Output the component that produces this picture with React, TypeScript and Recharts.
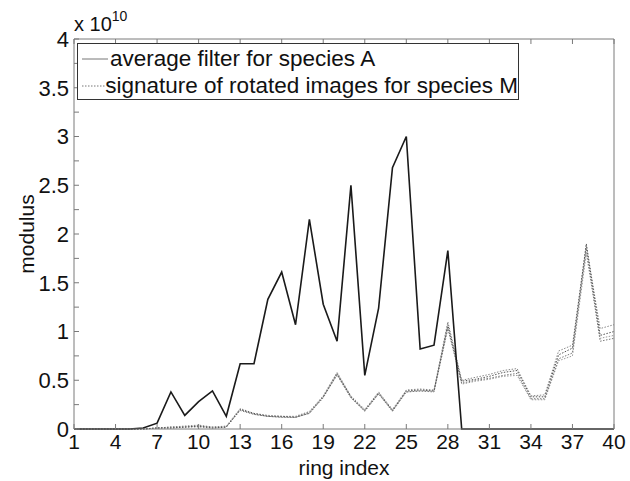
import React from "react"
import { LineChart, Line, XAxis, YAxis } from "recharts"

const ringIndex = [
  1, 2, 3, 4, 5, 6, 7, 8, 9, 10, 11, 12, 13, 14, 15, 16, 17, 18, 19, 20,
  21, 22, 23, 24, 25, 26, 27, 28, 29, 30, 31, 32, 33, 34, 35, 36, 37, 38, 39, 40,
]

// values in units of 1e10
const avgFilterA = [
  0, 0, 0, 0, 0, 0.01, 0.06, 0.38, 0.14, 0.28, 0.39, 0.13, 0.67, 0.67, 1.33, 1.61, 1.07, 2.15, 1.28, 0.9,
  2.5, 0.55, 1.24, 2.68, 3.0, 0.82, 0.86, 1.83, 0, 0, 0, 0, 0, 0, 0, 0, 0, 0, 0, 0,
]

const rotM1 = [
  0, 0, 0, 0, 0, 0, 0.01, 0.01, 0.02, 0.03, 0.01, 0.02, 0.2, 0.16, 0.13, 0.13, 0.12, 0.17, 0.33, 0.57,
  0.33, 0.19, 0.37, 0.19, 0.39, 0.4, 0.39, 1.07, 0.49, 0.51, 0.54, 0.58, 0.6, 0.33, 0.33, 0.76, 0.83, 1.9, 0.96, 1.0,
]
const rotM2 = [
  0, 0, 0, 0, 0, 0, 0.01, 0.02, 0.02, 0.03, 0.02, 0.02, 0.19, 0.15, 0.13, 0.12, 0.12, 0.16, 0.32, 0.56,
  0.32, 0.18, 0.36, 0.18, 0.38, 0.39, 0.38, 1.03, 0.47, 0.5, 0.52, 0.55, 0.57, 0.31, 0.31, 0.72, 0.78, 1.85, 0.9, 0.93,
]
const rotM3 = [
  0, 0, 0, 0, 0, 0, 0.01, 0.02, 0.03, 0.04, 0.02, 0.03, 0.21, 0.16, 0.14, 0.13, 0.13, 0.18, 0.34, 0.58,
  0.34, 0.2, 0.38, 0.2, 0.4, 0.41, 0.4, 1.1, 0.5, 0.53, 0.56, 0.6, 0.62, 0.34, 0.35, 0.8, 0.86, 1.88, 1.03, 1.07,
]
const rotM4 = [
  0, 0, 0, 0, 0, 0, 0.01, 0.01, 0.02, 0.02, 0.01, 0.02, 0.2, 0.15, 0.13, 0.12, 0.12, 0.16, 0.33, 0.55,
  0.32, 0.19, 0.36, 0.19, 0.38, 0.39, 0.39, 1.05, 0.46, 0.49, 0.51, 0.54, 0.55, 0.3, 0.3, 0.7, 0.75, 1.8, 0.93, 0.96,
]

const xTicks = [1, 4, 7, 10, 13, 16, 19, 22, 25, 28, 31, 34, 37, 40]
const yTicks = [0, 0.25, 0.5, 0.75, 1, 1.25, 1.5, 1.75, 2, 2.25, 2.5, 2.75, 3, 3.25, 3.5, 3.75, 4]

const avgName = "average filter for species A"
const rotName = "signature of rotated images for species M"

const data = ringIndex.map((r, i) => ({
  ring: r,
  avg: avgFilterA[i],
  m1: rotM1[i],
  m2: rotM2[i],
  m3: rotM3[i],
  m4: rotM4[i],
}))

const FONT = "'Liberation Sans', Arial, sans-serif"
const FS = 21
const AXIS = "#7a7a7a"
const TICK_LEN = 5
const MARGIN = 5

function BottomTick(props: any) {
  const { x, y, payload } = props
  const ay = y - MARGIN
  return (
    <g>
      <line x1={x} x2={x} y1={ay} y2={ay - TICK_LEN} stroke={AXIS} />
      <text x={x} y={y} dy="0.71em" textAnchor="middle" fontSize={FS} fontFamily={FONT} fill="#111">
        {payload.value}
      </text>
    </g>
  )
}

function TopTick(props: any) {
  const { x, y } = props
  return <line x1={x} x2={x} y1={y} y2={y + TICK_LEN} stroke={AXIS} />
}

function LeftTick(props: any) {
  const { x, y, payload } = props
  const ax = x + MARGIN
  const v = payload.value
  const major = Math.abs(v * 2 - Math.round(v * 2)) < 1e-6
  return (
    <g>
      <line x1={ax} x2={ax + TICK_LEN} y1={y} y2={y} stroke={AXIS} />
      {major && (
        <text x={x} y={y} dy="0.36em" textAnchor="end" fontSize={22} fontFamily={FONT} fill="#111">
          {String(v)}
        </text>
      )}
    </g>
  )
}

function RightTick(props: any) {
  const { x, y } = props
  return <line x1={x - TICK_LEN} x2={x} y1={y} y2={y} stroke={AXIS} />
}

function LegendBox() {
  return (
    <div
      style={{
        position: "absolute",
        left: 77,
        top: 43,
        border: "1px solid #333",
        background: "#fff",
        width: 442,
        height: 57,
        boxSizing: "border-box",
        fontFamily: FONT,
        fontSize: 22.5,
        color: "#111",
        paddingTop: 1,
      }}
    >
      {[
        { name: avgName, dash: undefined },
        { name: rotName, dash: "1.5 1.5" },
      ].map((it) => (
        <div key={it.name} style={{ display: "flex", alignItems: "center", height: 27, whiteSpace: "nowrap" }}>
          <svg width={32} height={10}>
            <line x1={4} x2={30} y1={5} y2={5} stroke="#777" strokeWidth={1} strokeDasharray={it.dash} />
          </svg>
          <span>{it.name}</span>
        </div>
      ))}
    </div>
  )
}

export default function App() {
  return (
    <div style={{ position: "relative", width: 630, height: 481, background: "#fff" }}>
      <style>{"body{margin:0}"}</style>
      <div
        style={{
          position: "absolute",
          left: 74,
          top: 10,
          fontFamily: FONT,
          fontSize: 20,
          color: "#111",
          whiteSpace: "nowrap",
        }}
      >
        x 10<sup style={{ fontSize: 14, position: "relative", top: -2 }}>10</sup>
      </div>
      <LineChart width={630} height={481} data={data} margin={{ top: 38, right: 15, bottom: 0, left: 0 }}>
        <XAxis
          xAxisId="b"
          dataKey="ring"
          type="number"
          domain={[1, 40]}
          ticks={xTicks}
          interval={0}
          height={52}
          tickSize={0}
          tickMargin={MARGIN}
          tick={BottomTick}
          axisLine={{ stroke: AXIS }}
          label={{
            content: (p: any) => {
              const vb = p.viewBox
              return (
                <text
                  x={vb.x + vb.width / 2}
                  y={vb.y + vb.height - 6}
                  textAnchor="middle"
                  fontSize={FS}
                  fontFamily={FONT}
                  fill="#111"
                >
                  ring index
                </text>
              )
            },
          }}
        />
        <XAxis
          xAxisId="t"
          orientation="top"
          dataKey="ring"
          type="number"
          domain={[1, 40]}
          ticks={xTicks}
          interval={0}
          height={1}
          tickSize={0}
          tickMargin={0}
          tick={TopTick}
          axisLine={{ stroke: AXIS }}
        />
        <YAxis
          yAxisId="l"
          domain={[0, 4]}
          ticks={yTicks}
          interval={0}
          width={74}
          tickSize={0}
          tickMargin={MARGIN}
          tick={LeftTick}
          axisLine={{ stroke: AXIS }}
          label={{
            content: (p: any) => {
              const vb = p.viewBox
              const cx = 26
              const cy = vb.y + vb.height / 2
              return (
                <text
                  x={cx}
                  y={cy}
                  dy="0.36em"
                  transform={`rotate(-90 ${cx} ${cy})`}
                  textAnchor="middle"
                  fontSize={21}
                  fontFamily={FONT}
                  fill="#111"
                >
                  modulus
                </text>
              )
            },
          }}
        />
        <YAxis
          yAxisId="r"
          orientation="right"
          domain={[0, 4]}
          ticks={yTicks}
          interval={0}
          width={1}
          tickSize={0}
          tickMargin={0}
          tick={RightTick}
          axisLine={{ stroke: AXIS }}
        />
        <Line xAxisId="b" yAxisId="l" dataKey="m4" stroke="#9a9a9a" strokeWidth={1} strokeDasharray="1.5 1.5" dot={false} isAnimationActive={false} />
        <Line xAxisId="b" yAxisId="l" dataKey="m3" stroke="#888" strokeWidth={1} strokeDasharray="1.5 1.5" dot={false} isAnimationActive={false} />
        <Line xAxisId="b" yAxisId="l" dataKey="m2" stroke="#777" strokeWidth={1} strokeDasharray="1.5 1.5" dot={false} isAnimationActive={false} />
        <Line xAxisId="b" yAxisId="l" dataKey="m1" name={rotName} stroke="#555" strokeWidth={1} strokeDasharray="1.5 1.5" dot={false} isAnimationActive={false} />
        <Line xAxisId="b" yAxisId="l" dataKey="avg" name={avgName} stroke="#1a1a1a" strokeWidth={1.6} dot={false} isAnimationActive={false} />
      </LineChart>
      <LegendBox />
    </div>
  )
}
